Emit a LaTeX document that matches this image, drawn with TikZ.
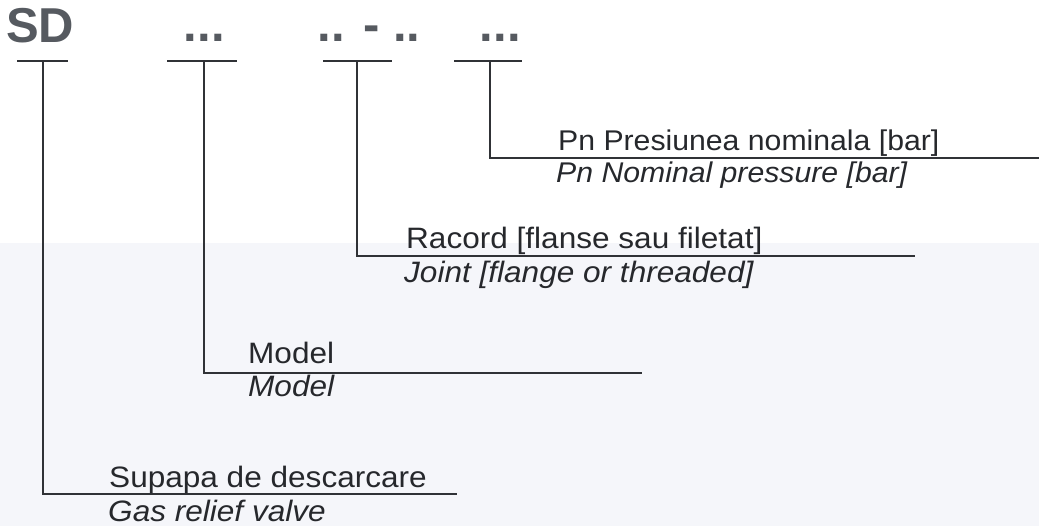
\documentclass[tikz,border=0pt]{standalone}
\usepackage{fontspec}
\setmainfont{Liberation Sans}
\newfontfamily\labfont[FakeStretch=1.07]{Liberation Sans}
\newfontfamily\pnfont[FakeStretch=1.06]{Liberation Sans}
\begin{document}
\begin{tikzpicture}[x=1pt,y=-1pt,
  code/.style={anchor=base west,inner sep=0pt,text=codegray,font=\fontsize{49}{49}\selectfont\bfseries},
  lab/.style={anchor=base west,inner sep=0pt,text depth=0pt,text=textdark,font=\labfont\fontsize{29.5}{29.5}\selectfont},
  labit/.style={lab,font=\labfont\fontsize{29.5}{29.5}\selectfont\itshape},
  pnlab/.style={lab,font=\pnfont\fontsize{28.5}{28.5}\selectfont},
  pnlabit/.style={lab,font=\pnfont\fontsize{28.5}{28.5}\selectfont\itshape},
  bar/.style={line width=2pt,draw=linedark},
  leader/.style={line width=2pt,draw=linedark}]
\definecolor{codegray}{HTML}{565A60}
\definecolor{textdark}{HTML}{26282C}
\definecolor{linedark}{HTML}{303236}
\definecolor{scanbg}{HTML}{F5F6FA}
\useasboundingbox (0,0) rectangle (1039,526);
\fill[scanbg] (0,243) rectangle (1039,526);

% top code
\node[code] (sd) at (6,43) {SD};
\node[code] (m) at (183.6,42) {...};
\node[code] (j) at (317.6,42) {.. - ..};
\node[code] (p) at (479.6,42) {...};

% T-bars
\coordinate (b1l) at (17,61.5);  \coordinate (b1r) at (68,61.5);  \coordinate (s1) at (43,61.5);
\coordinate (b2l) at (167,61.5); \coordinate (b2r) at (237,61.5); \coordinate (s2) at (204,61.5);
\coordinate (b3l) at (323,61.5); \coordinate (b3r) at (392,61.5); \coordinate (s3) at (357,61.5);
\coordinate (b4l) at (454,61.5); \coordinate (b4r) at (522,61.5); \coordinate (s4) at (490,61.5);
\draw[bar] (b1l) -- (b1r);
\draw[bar] (b2l) -- (b2r);
\draw[bar] (b3l) -- (b3r);
\draw[bar] (b4l) -- (b4r);

% leader ends
\coordinate (e1) at (457,494);
\coordinate (e2) at (642,373);
\coordinate (e3) at (915,256);
\coordinate (e4) at (1039,158);
\draw[leader] (s1) |- (e1);
\draw[leader] (s2) |- (e2);
\draw[leader] (s3) |- (e3);
\draw[leader] (s4) |- (e4);

% labels
\node[pnlab]   (l4a) at (558,151) {Pn Presiunea nominala [bar]};
\node[pnlabit] (l4b) at (556,183) {Pn Nominal pressure [bar]};
\node[lab]   (l3a) at (406,249) {Racord [flanse sau filetat]};
\node[labit] (l3b) at (404,283) {Joint [flange or threaded]};
\node[lab]   (l2a) at (248,364) {Model};
\node[labit] (l2b) at (248,397) {Model};
\node[lab]   (l1a) at (109,487) {Supapa de descarcare};
\node[labit] (l1b) at (108,521.5) {Gas relief valve};
\end{tikzpicture}
\end{document}
